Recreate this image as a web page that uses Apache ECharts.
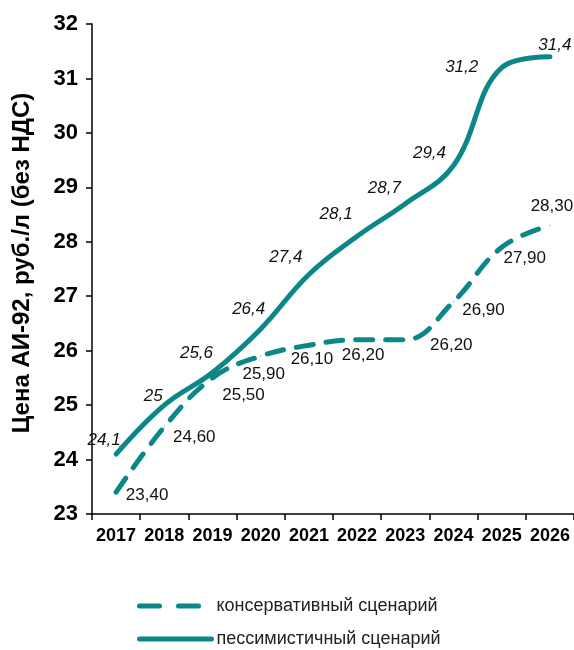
<!DOCTYPE html>
<html lang="ru" style="height: 100%">
<head>
    <meta charset="utf-8">
    <script src="https://cdn.jsdelivr.net/npm/echarts@6/dist/echarts.min.js"></script>
</head>
<body style="height: 100%; margin: 0; overflow: hidden; background: #fff">
<div id="container" style="height: 650px; width: 574px"></div>
<script type="text/javascript">
    // данные
    var years = ['2017', '2018', '2019', '2020', '2021', '2022', '2023', '2024', '2025', '2026'];
    var conservative = [23.40, 24.60, 25.50, 25.90, 26.10, 26.20, 26.20, 26.90, 27.90, 28.30];
    var pessimistic = [24.1, 25, 25.6, 26.4, 27.4, 28.1, 28.7, 29.4, 31.2, 31.4];
    var yTicks = [23, 24, 25, 26, 27, 28, 29, 30, 31, 32];

    // смещения подписей
    var consOffsets = [[31, 3], [30, 10], [31, 17], [3, 18], [3, 14], [6, 16], [46, 6], [30, 9], [23, 11], [2, -19]];
    var pessOffsets = [[-12, -14], [-11, -9], [-16, -19], [-12, -20], [-23, -17], [-21, -22], [-21, -15], [-24, -12], [-40, 0], [5, -11]];

    var teal = '#0b878a';
    var font = 'Arial, "Liberation Sans", sans-serif';

    var dom = document.getElementById('container');
    var myChart = echarts.init(dom, null, { renderer: 'canvas' });

    function withLabels(values, offsets, fixed, italic) {
      return values.map(function (v, i) {
        var txt = fixed ? v.toFixed(2) : String(v);
        return {
          value: v,
          label: {
            show: true,
            position: 'inside',
            offset: offsets[i],
            formatter: txt.replace('.', ','),
            fontFamily: font,
            fontSize: 17,
            fontStyle: italic ? 'italic' : 'normal',
            color: '#111'
          }
        };
      });
    }

    var option = {
      animation: false,
      textStyle: { fontFamily: font },
      grid: { left: 92, right: 0, top: 24, bottom: 136 },
      legend: {
        orient: 'vertical',
        left: 137,
        top: 597,
        padding: 0,
        itemWidth: 72,
        itemHeight: 14,
        itemGap: 15,
        itemStyle: { opacity: 0 },
        textStyle: { fontFamily: font, fontSize: 18, color: '#222' },
        data: [
          { name: 'консервативный сценарий', lineStyle: { width: 5, cap: 'round', type: [20, 19, 20, 50] } },
          { name: 'пессимистичный сценарий', lineStyle: { width: 5, cap: 'round' } }
        ]
      },
      xAxis: {
        type: 'category',
        data: years,
        boundaryGap: true,
        axisLine: { lineStyle: { color: '#000', width: 1.5 } },
        axisTick: { show: true, length: 6, interval: 0, lineStyle: { color: '#000', width: 1.5 } },
        axisLabel: { interval: 0, color: '#000', fontWeight: 'bold', fontSize: 18, margin: 13, fontFamily: font }
      },
      yAxis: {
        type: 'value',
        min: yTicks[0],
        max: yTicks[yTicks.length - 1],
        interval: 1,
        name: 'Цена АИ-92, руб./л (без НДС)',
        nameLocation: 'middle',
        nameGap: 58,
        nameTextStyle: { color: '#000', fontWeight: 'bold', fontSize: 24, fontFamily: font, padding: [0, 0, 0, 12] },
        splitLine: { show: false },
        axisLine: { show: true, lineStyle: { color: '#000', width: 1.5 } },
        axisTick: { show: true, length: 6, lineStyle: { color: '#000', width: 1.5 } },
        axisLabel: { color: '#000', fontWeight: 'bold', fontSize: 22, margin: 14, fontFamily: font }
      },
      series: [
        {
          name: 'консервативный сценарий',
          type: 'line',
          smooth: 0.4,
          symbol: 'circle',
          symbolSize: 1,
          showSymbol: true,
          data: withLabels(conservative, consOffsets, true, false),
          lineStyle: { color: teal, width: 5, type: [17, 13], cap: 'round' },
          itemStyle: { color: teal }
        },
        {
          name: 'пессимистичный сценарий',
          type: 'line',
          smooth: 0.4,
          symbol: 'circle',
          symbolSize: 1,
          showSymbol: true,
          data: withLabels(pessimistic, pessOffsets, false, true),
          lineStyle: { color: teal, width: 5, cap: 'round' },
          itemStyle: { color: teal }
        }
      ]
    };

    myChart.setOption(option);
    window.addEventListener('resize', myChart.resize);
</script>
</body>
</html>
